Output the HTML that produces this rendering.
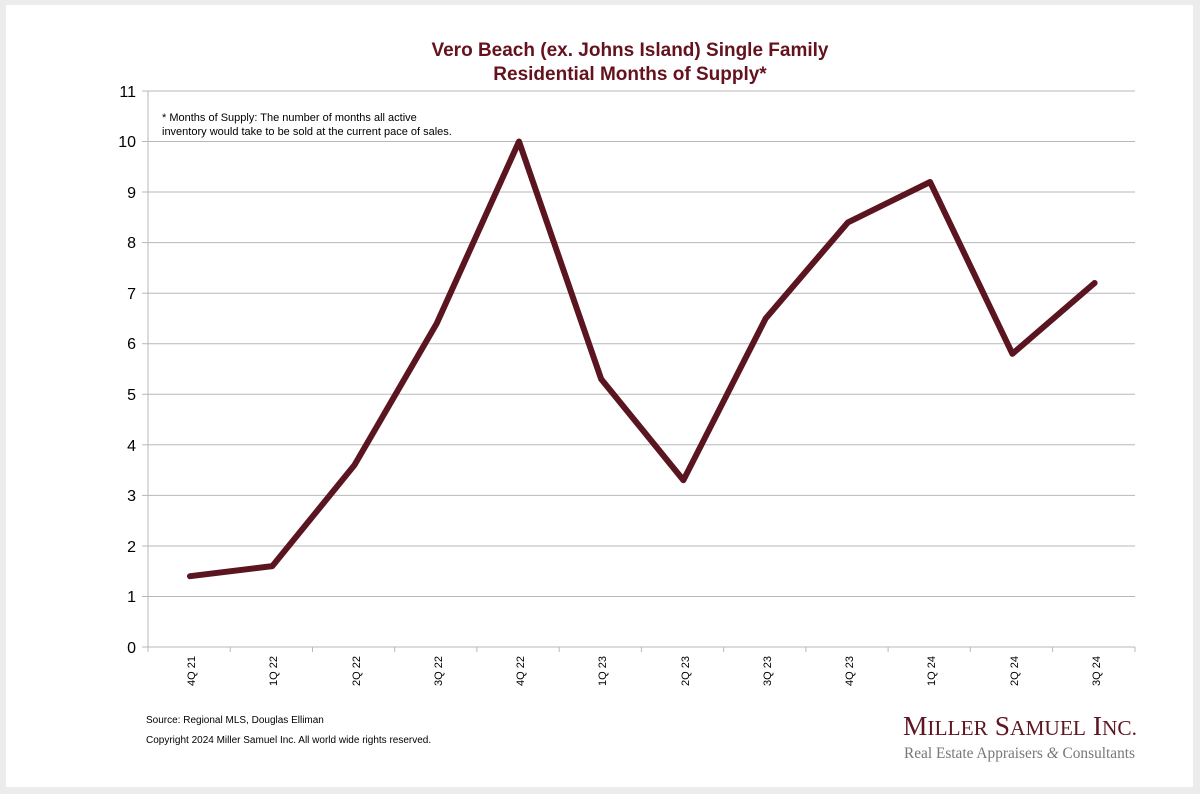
<!DOCTYPE html>
<html><head><style>
html,body{margin:0;padding:0;background:#ececec;}
svg{display:block;}
</style></head><body>
<svg width="1200" height="794" xmlns="http://www.w3.org/2000/svg" font-family="Liberation Sans, Arial, sans-serif">
<rect x="0" y="0" width="1200" height="794" fill="#ececec"/>
<rect x="6" y="5" width="1187" height="782" fill="#fff"/>
<text x="630" y="56" text-anchor="middle" font-size="19" font-weight="bold" fill="#64121d">Vero Beach (ex. Johns Island) Single Family</text>
<text x="630" y="80" text-anchor="middle" font-size="19" font-weight="bold" fill="#64121d">Residential Months of Supply*</text>
<g stroke="#b8b8b8" stroke-width="1">
<line x1="148" x2="1135" y1="91" y2="91"/>
<line x1="148" x2="1135" y1="141.5" y2="141.5"/>
<line x1="148" x2="1135" y1="192" y2="192"/>
<line x1="148" x2="1135" y1="242.6" y2="242.6"/>
<line x1="148" x2="1135" y1="293.2" y2="293.2"/>
<line x1="148" x2="1135" y1="343.7" y2="343.7"/>
<line x1="148" x2="1135" y1="394.3" y2="394.3"/>
<line x1="148" x2="1135" y1="444.8" y2="444.8"/>
<line x1="148" x2="1135" y1="495.4" y2="495.4"/>
<line x1="148" x2="1135" y1="546" y2="546"/>
<line x1="148" x2="1135" y1="596.5" y2="596.5"/>
<line x1="148" x2="1135" y1="647" y2="647"/>
<line x1="148" x2="148" y1="91" y2="652"/>
<line x1="142" x2="148" y1="91" y2="91"/><line x1="142" x2="148" y1="141.5" y2="141.5"/><line x1="142" x2="148" y1="192" y2="192"/><line x1="142" x2="148" y1="242.6" y2="242.6"/><line x1="142" x2="148" y1="293.2" y2="293.2"/><line x1="142" x2="148" y1="343.7" y2="343.7"/><line x1="142" x2="148" y1="394.3" y2="394.3"/><line x1="142" x2="148" y1="444.8" y2="444.8"/><line x1="142" x2="148" y1="495.4" y2="495.4"/><line x1="142" x2="148" y1="546" y2="546"/><line x1="142" x2="148" y1="596.5" y2="596.5"/><line x1="142" x2="148" y1="647" y2="647"/>
<line x1="230.2" x2="230.2" y1="647" y2="652"/><line x1="312.5" x2="312.5" y1="647" y2="652"/><line x1="394.7" x2="394.7" y1="647" y2="652"/><line x1="476.9" x2="476.9" y1="647" y2="652"/><line x1="559.2" x2="559.2" y1="647" y2="652"/><line x1="641.4" x2="641.4" y1="647" y2="652"/><line x1="723.6" x2="723.6" y1="647" y2="652"/><line x1="805.9" x2="805.9" y1="647" y2="652"/><line x1="888.1" x2="888.1" y1="647" y2="652"/><line x1="970.3" x2="970.3" y1="647" y2="652"/><line x1="1052.6" x2="1052.6" y1="647" y2="652"/><line x1="1135" x2="1135" y1="647" y2="652"/>
</g>
<g font-size="16" fill="#000" text-anchor="end">
<text x="136" y="97">11</text><text x="136" y="147">10</text><text x="136" y="198">9</text><text x="136" y="248">8</text><text x="136" y="299">7</text><text x="136" y="349">6</text><text x="136" y="400">5</text><text x="136" y="451">4</text><text x="136" y="501">3</text><text x="136" y="552">2</text><text x="136" y="602">1</text><text x="136" y="653">0</text>
</g>
<g font-size="11" fill="#000" text-anchor="end">
<text transform="translate(195,656) rotate(-90)">4Q 21</text>
<text transform="translate(277,656) rotate(-90)">1Q 22</text>
<text transform="translate(360,656) rotate(-90)">2Q 22</text>
<text transform="translate(442,656) rotate(-90)">3Q 22</text>
<text transform="translate(524,656) rotate(-90)">4Q 22</text>
<text transform="translate(606,656) rotate(-90)">1Q 23</text>
<text transform="translate(689,656) rotate(-90)">2Q 23</text>
<text transform="translate(771,656) rotate(-90)">3Q 23</text>
<text transform="translate(853,656) rotate(-90)">4Q 23</text>
<text transform="translate(935,656) rotate(-90)">1Q 24</text>
<text transform="translate(1018,656) rotate(-90)">2Q 24</text>
<text transform="translate(1100,656) rotate(-90)">3Q 24</text>
</g>
<text x="162" y="121" font-size="11" fill="#000">* Months of Supply: The number of months all active</text>
<text x="162" y="135" font-size="11" fill="#000">inventory would take to be sold at the current pace of sales.</text>
<polyline fill="none" stroke="#5a1520" stroke-width="6" stroke-linejoin="round" stroke-linecap="round"
points="190,576.2 272.3,566.1 354.5,465 436.7,323.5 519,141.5 601.2,379.1 683.4,480.2 765.7,318.4 847.9,222.4 930.1,182 1012.4,353.8 1094.6,283"/>
<text x="146" y="723" font-size="10" fill="#000">Source: Regional MLS, Douglas Elliman</text>
<text x="146" y="743" font-size="10" fill="#000">Copyright 2024 Miller Samuel Inc.  All world wide rights reserved.</text>
<text x="903" y="735" font-family="Liberation Serif, serif" font-size="27" fill="#5e1620" textLength="234" lengthAdjust="spacingAndGlyphs">M<tspan font-size="21">ILLER</tspan> S<tspan font-size="21">AMUEL</tspan> I<tspan font-size="21">NC.</tspan></text>
<text x="904" y="758" font-family="Liberation Serif, serif" font-size="15.5" fill="#777" textLength="231" lengthAdjust="spacingAndGlyphs">Real Estate Appraisers <tspan font-style="italic">&amp;</tspan> Consultants</text>
</svg>
</body></html>
